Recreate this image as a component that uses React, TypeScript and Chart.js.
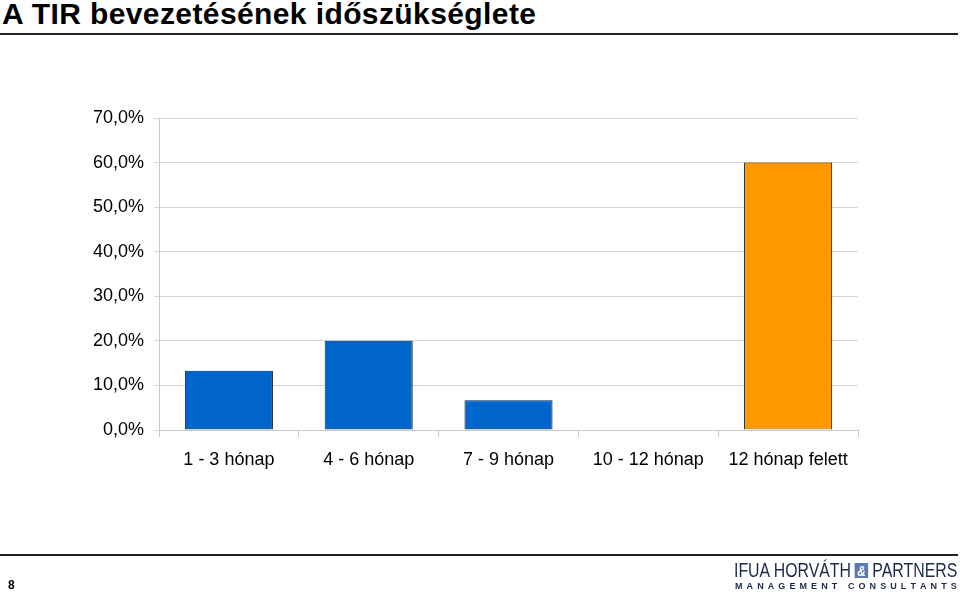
import React, { useEffect, useRef } from "react";
import { Chart, registerables } from "chart.js";

Chart.register(...registerables);

const categories = ["1 - 3 hónap", "4 - 6 hónap", "7 - 9 hónap", "10 - 12 hónap", "12 hónap felett"];
const values = [13.3, 20.0, 6.7, 0, 60.0];
const barColors = ["#0066CC", "#0066CC", "#0066CC", "#0066CC", "#FF9900"];
const yTicks = [0, 10, 20, 30, 40, 50, 60, 70];

const FONT = "'Liberation Sans', Arial, sans-serif";

export default function App() {
  const ref = useRef<HTMLCanvasElement | null>(null);
  const logoRef = useRef<HTMLDivElement | null>(null);

  useEffect(() => {
    const canvas = ref.current;
    if (!canvas) return;
    const chart = new Chart(canvas, {
      type: "bar",
      data: {
        labels: categories,
        datasets: [
          {
            data: values,
            backgroundColor: barColors,
            borderColor: "#1a1a1a",
            borderWidth: 1,
            barPercentage: 0.63,
            categoryPercentage: 1,
          },
        ],
      },
      options: {
        responsive: false,
        animation: false,
        layout: { padding: { left: 0, right: 102, top: 118, bottom: 104 } },
        plugins: { legend: { display: false }, tooltip: { enabled: false } },
        scales: {
          x: {
            afterFit: (s: any) => {
              s.height = 60;
            },
            grid: {
              display: true,
              drawOnChartArea: false,
              drawTicks: true,
              tickLength: 7,
              color: "#c8c8c8",
              offset: true,
            },
            border: { color: "#c8c8c8" },
            ticks: {
              color: "#000",
              font: { family: FONT, size: 18 },
              padding: 12,
              maxRotation: 0,
              autoSkip: false,
            },
          },
          y: {
            min: 0,
            max: 70,
            afterFit: (s: any) => {
              s.width = 159;
            },
            afterBuildTicks: (s: any) => {
              s.ticks = yTicks.map((v) => ({ value: v }));
            },
            grid: { color: "#d4d4d4", tickLength: 5, drawTicks: true },
            border: { color: "#c8c8c8" },
            ticks: {
              color: "#000",
              font: { family: FONT, size: 18 },
              padding: 10,
              callback: (v: any) => Number(v).toFixed(1).replace(".", ",") + "%",
            },
          },
        },
      },
    });
    const logo = logoRef.current;
    if (logo) {
      const w = logo.scrollWidth;
      if (w > 0) logo.style.transform = `scaleX(${223 / w})`;
    }
    return () => chart.destroy();
  }, []);

  return (
    <div style={{ position: "fixed", left: 0, top: 0, width: 960, height: 594, background: "#fff", fontFamily: FONT, overflow: "hidden" }}>
      <div style={{ position: "absolute", left: 2, top: -3, fontSize: 30, fontWeight: "bold", color: "#000", whiteSpace: "nowrap", letterSpacing: 0.4 }}>
        A TIR bevezetésének időszükséglete
      </div>
      <div style={{ position: "absolute", left: 0, top: 33, width: 958, height: 2, background: "#222" }} />
      <canvas ref={ref} width={960} height={594} style={{ position: "absolute", left: 0, top: 0 }} />
      <div style={{ position: "absolute", left: 0, top: 554, width: 958, height: 2, background: "#222" }} />
      <div style={{ position: "absolute", left: 8, top: 578, fontSize: 12, fontWeight: "bold", color: "#000" }}>8</div>
      <div
        ref={logoRef}
        style={{ position: "absolute", left: 734, top: 560, fontSize: 20, lineHeight: "20px", color: "#1c2a4a", whiteSpace: "nowrap", transformOrigin: "left top", display: "inline-flex", alignItems: "center" }}
      >
        <span>IFUA HORVÁTH</span>
        <span style={{ display: "inline-block", margin: "0 5px", background: "#5b79b8", color: "#fff", fontSize: 15, lineHeight: "15px", padding: "0 3px", fontStyle: "italic", fontWeight: "bold" }}>&amp;</span>
        <span>PARTNERS</span>
      </div>
      <div style={{ position: "absolute", left: 735, top: 581, width: 222, fontSize: 9, fontWeight: "bold", color: "#1c2a4a", whiteSpace: "nowrap", display: "flex", justifyContent: "space-between", lineHeight: "10px" }}>
        {"MANAGEMENT CONSULTANTS".split("").map((c, i) => (
          <span key={i}>{c === " " ? "\u00a0" : c}</span>
        ))}
      </div>
    </div>
  );
}
